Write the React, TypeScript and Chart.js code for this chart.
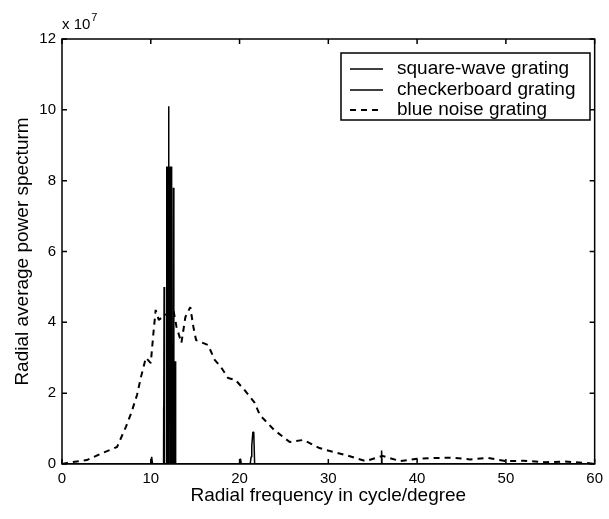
import React, { useEffect, useRef } from "react";
import { Chart, registerables } from "chart.js";

Chart.register(...registerables);

// Values are in units of 1e7
const squareWaveX = [0, 11.45, 11.5, 11.55, 11.95, 12.0, 12.05, 35.95, 36.0, 36.05, 60];
const squareWaveY = [0, 0, 5.0, 0, 0, 10.1, 0, 0, 0.38, 0, 0];

const checkerX = [0, 10.0, 10.1, 10.2, 11.4, 11.45, 11.5, 11.75, 11.8, 11.85, 11.9, 11.95, 12.1, 12.15, 12.2, 12.25, 12.3, 12.35, 12.5, 12.55, 12.6, 12.7, 12.75, 12.8, 20.0, 20.1, 20.2, 21.2, 21.3, 21.35, 21.4, 21.5, 21.6, 21.7, 60];
const checkerY = [0, 0, 0.2, 0, 0, 1.6, 0, 0, 8.4, 0, 8.4, 0, 8.4, 0, 8.4, 0, 8.4, 0, 0, 7.8, 0, 0, 2.9, 0, 0, 0.15, 0, 0, 0.2, 0.5, 0.5, 0.9, 0.9, 0, 0];

const blueNoiseX = [0, 0.55, 2.8, 4.55, 6.2, 7.2, 7.8, 8.45, 8.9, 9.45, 10.0, 10.3, 10.55, 10.9, 11.6, 12.55, 12.9, 13.45, 13.9, 14.45, 14.8, 15.1, 16.45, 17.2, 17.9, 18.7, 19.55, 20.55, 21.65, 22.3, 23.9, 25.65, 27.2, 29.0, 30.55, 32.0, 34.2, 36.1, 38.1, 40.0, 42.0, 44.0, 46.0, 48.0, 50.0, 52.0, 54.5, 56.5, 59.0, 60];
const blueNoiseY = [0, 0.03, 0.11, 0.31, 0.48, 1.05, 1.44, 1.95, 2.46, 3.0, 2.85, 3.7, 4.35, 4.07, 4.2, 4.35, 3.87, 3.42, 4.15, 4.43, 3.87, 3.5, 3.36, 2.94, 2.74, 2.43, 2.37, 2.09, 1.75, 1.38, 0.96, 0.62, 0.68, 0.45, 0.34, 0.25, 0.08, 0.23, 0.08, 0.15, 0.17, 0.18, 0.13, 0.17, 0.08, 0.09, 0.05, 0.07, 0.03, 0];

const seriesLabels = ["square-wave grating", "checkerboard grating", "blue noise grating"];
const xTicks = [0, 10, 20, 30, 40, 50, 60];
const yTicks = [0, 2, 4, 6, 8, 10, 12];
const xTitle = "Radial frequency in cycle/degree";
const yTitle = "Radial average power specturm";

const FONT = '"Liberation Sans", Arial, Helvetica, sans-serif';

const pts = (xs: number[], ys: number[]) => xs.map((x, i) => ({ x, y: ys[i] }));

const framePlugin = {
  id: "frame",
  afterDraw(chart: any) {
    const { ctx, chartArea: a, scales } = chart;
    const xs = scales.x, ys = scales.y;
    ctx.save();
    ctx.strokeStyle = "#000";
    ctx.lineWidth = 1.5;
    ctx.strokeRect(a.left, a.top, a.right - a.left, a.bottom - a.top);
    // inward ticks
    const tl = 5;
    ctx.beginPath();
    xTicks.forEach((v) => {
      const px = xs.getPixelForValue(v);
      ctx.moveTo(px, a.bottom); ctx.lineTo(px, a.bottom - tl);
      ctx.moveTo(px, a.top); ctx.lineTo(px, a.top + tl);
    });
    yTicks.forEach((v) => {
      const py = ys.getPixelForValue(v);
      ctx.moveTo(a.left, py); ctx.lineTo(a.left + tl, py);
      ctx.moveTo(a.right, py); ctx.lineTo(a.right - tl, py);
    });
    ctx.stroke();

    // exponent label
    ctx.fillStyle = "#000";
    ctx.textBaseline = "middle";
    ctx.textAlign = "left";
    ctx.font = `15px ${FONT}`;
    ctx.fillText("x 10", a.left, a.top - 14);
    const w = ctx.measureText("x 10").width;
    ctx.font = `11px ${FONT}`;
    ctx.fillText("7", a.left + w + 1, a.top - 21);

    // legend
    const lx = 341, ly = 53, lw = 249, lh = 67;
    ctx.fillStyle = "#fff";
    ctx.fillRect(lx, ly, lw, lh);
    ctx.lineWidth = 1.5;
    ctx.strokeStyle = "#000";
    ctx.strokeRect(lx, ly, lw, lh);
    const rows = [69, 90, 110];
    chart.data.datasets.forEach((ds: any, i: number) => {
      const y = rows[i];
      ctx.beginPath();
      ctx.lineWidth = ds.borderWidth;
      ctx.setLineDash(ds.borderDash || []);
      ctx.moveTo(350, y);
      ctx.lineTo(383, y);
      ctx.stroke();
      ctx.setLineDash([]);
      ctx.fillStyle = "#000";
      ctx.font = `19px ${FONT}`;
      ctx.fillText(ds.label, 397, y);
    });
    ctx.restore();
  },
};

export default function App() {
  const ref = useRef<HTMLCanvasElement | null>(null);
  useEffect(() => {
    if (!ref.current) return;
    const chart = new Chart(ref.current, {
      type: "line",
      data: {
        datasets: [
          {
            label: seriesLabels[0],
            data: pts(squareWaveX, squareWaveY),
            borderColor: "#000",
            borderWidth: 1.5,
            borderJoinStyle: "bevel",
            pointRadius: 0,
            tension: 0,
          },
          {
            label: seriesLabels[1],
            data: pts(checkerX, checkerY),
            borderColor: "#000",
            borderWidth: 1.5,
            borderJoinStyle: "bevel",
            pointRadius: 0,
            tension: 0,
          },
          {
            label: seriesLabels[2],
            data: pts(blueNoiseX, blueNoiseY),
            borderColor: "#000",
            borderWidth: 2,
            borderDash: [6, 5],
            borderJoinStyle: "bevel",
            pointRadius: 0,
            tension: 0,
          },
        ],
      },
      options: {
        responsive: false,
        animation: false,
        layout: { padding: { top: 39, right: 7, left: 0, bottom: 0 } },
        plugins: { legend: { display: false }, tooltip: { enabled: false } },
        scales: {
          x: {
            type: "linear",
            min: 0,
            max: 60,
            afterBuildTicks: (s: any) => { s.ticks = xTicks.map((v) => ({ value: v })); },
            afterFit: (s: any) => { s.height = 55; },
            grid: { display: false, drawTicks: false },
            border: { display: false },
            ticks: { color: "#000", font: { family: FONT, size: 15 }, padding: 6, maxRotation: 0 },
            title: { display: true, text: xTitle, color: "#000", font: { family: FONT, size: 19 }, padding: { top: 0, bottom: 12 } },
          },
          y: {
            type: "linear",
            min: 0,
            max: 12,
            afterBuildTicks: (s: any) => { s.ticks = yTicks.map((v) => ({ value: v })); },
            afterFit: (s: any) => { s.width = 62; },
            grid: { display: false, drawTicks: false },
            border: { display: false },
            ticks: { color: "#000", font: { family: FONT, size: 15 }, padding: 6 },
            title: { display: true, text: yTitle, color: "#000", font: { family: FONT, size: 19 }, padding: { top: 11, bottom: 0 } },
          },
        },
      },
      plugins: [framePlugin],
    });
    return () => chart.destroy();
  }, []);
  return (
    <div style={{ position: "absolute", left: 0, top: 0, width: 609, height: 519, background: "#fff" }}>
      <canvas ref={ref} width={609} height={519} style={{ width: 609, height: 519, display: "block" }} />
    </div>
  );
}
